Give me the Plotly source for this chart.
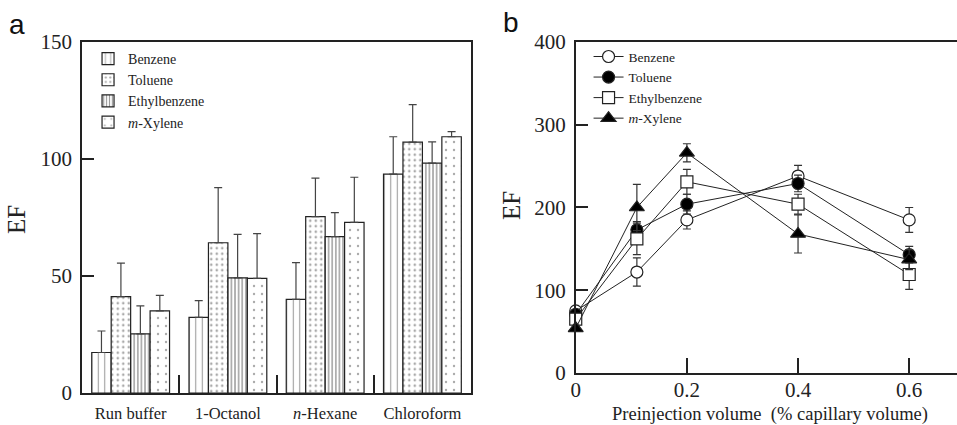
import plotly.graph_objects as go

# ---------------- Data: panel a ----------------
solvents = ["Run buffer", "1-Octanol", "<i>n</i>-Hexane", "Chloroform"]
a_benzene = [17.3, 32.3, 40.0, 93.5]
a_toluene = [41.2, 64.2, 75.4, 107.2]
a_ethylbenzene = [25.3, 49.2, 66.8, 98.2]
a_mxylene = [35.1, 49.0, 72.9, 109.5]
a_benzene_err = [9.2, 7.2, 15.7, 16.0]
a_toluene_err = [14.3, 23.6, 16.4, 16.0]
a_ethylbenzene_err = [11.9, 18.6, 10.3, 9.1]
a_mxylene_err = [6.6, 19.1, 19.3, 2.2]

# ---------------- Data: panel b ----------------
preinj = [0, 0.11, 0.2, 0.4, 0.6]
b_benzene = [75, 122, 185, 238, 185]
b_toluene = [71, 173, 204, 229, 143]
b_ethylbenzene = [65, 162, 231, 204, 119]
b_mxylene = [54, 200, 266, 168, 137]
b_benzene_err = [3, 17, 11, 13, 15]
b_toluene_err = [3, 10, 12, 10, 10]
b_ethylbenzene_err = [3, 19, 15, 12, 18]
b_mxylene_err = [3, 28, 11, 23, 12]

names = ["Benzene", "Toluene", "Ethylbenzene", "<i>m</i>-Xylene"]

SERIF = "Liberation Serif, Times New Roman, serif"
SANS = "Liberation Sans, Arial, sans-serif"
AX = "#222222"

fig = go.Figure()

patterns = [
    dict(shape="|", size=6.5, solidity=0.16, fgcolor="#333333", bgcolor="white"),
    dict(shape=".", size=5.5, solidity=0.18, fgcolor="#555555", bgcolor="white"),
    dict(shape="|", size=3.6, solidity=0.4, fgcolor="#333333", bgcolor="white"),
    dict(shape=".", size=8, solidity=0.07, fgcolor="#555555", bgcolor="white"),
]
a_vals = [a_benzene, a_toluene, a_ethylbenzene, a_mxylene]
a_errs = [a_benzene_err, a_toluene_err, a_ethylbenzene_err, a_mxylene_err]

for nm, vals, errs, pat in zip(names, a_vals, a_errs, patterns):
    fig.add_trace(go.Bar(
        x=solvents, y=vals, name=nm,
        marker=dict(color="white", line=dict(color=AX, width=1.2), pattern=pat),
        error_y=dict(type="data", array=errs, arrayminus=[0] * len(errs), symmetric=False,
                     color="#444444", thickness=1.2, width=4),
        xaxis="x", yaxis="y", legend="legend",
    ))

b_vals = [b_benzene, b_toluene, b_ethylbenzene, b_mxylene]
b_errs = [b_benzene_err, b_toluene_err, b_ethylbenzene_err, b_mxylene_err]
symbols = ["circle", "circle", "square", "triangle-up"]
fills = ["white", "black", "white", "black"]
sizes = [12, 12, 12, 13]
for nm, vals, errs, sym, fc, sz in zip(names, b_vals, b_errs, symbols, fills, sizes):
    fig.add_trace(go.Scatter(
        x=preinj, y=vals, name=nm, mode="lines+markers",
        line=dict(color=AX, width=1),
        marker=dict(symbol=sym, size=sz, color=fc, line=dict(color=AX, width=1.2)),
        error_y=dict(type="data", array=errs, color="#333333", thickness=1.2, width=4),
        cliponaxis=False,
        xaxis="x2", yaxis="y2", legend="legend2",
    ))

axis_common = dict(showline=True, linecolor=AX, linewidth=1.5, showgrid=False, zeroline=False,
                   ticks="inside", tickcolor=AX, tickwidth=1.5, automargin=False)

fig.update_layout(
    width=957, height=425,
    margin=dict(l=0, r=0, t=0, b=0),
    paper_bgcolor="white", plot_bgcolor="white",
    barmode="group", bargap=0.2, bargroupgap=0,
    font=dict(family=SERIF, color="#222222"),
    xaxis=dict(domain=[0.0857, 0.4922], anchor="y", type="category", range=[-0.5, 3.5],
               tickson="boundaries", ticklen=18, mirror=True, ticklabelstandoff=4,
               tickfont=dict(family=SERIF, size=16.5), **axis_common),
    yaxis=dict(domain=[0.0753, 0.9012], anchor="x", range=[0, 150], tickvals=[0, 50, 100, 150],
               ticklen=12, mirror=True, tickfont=dict(family=SERIF, size=21),
               ticklabelstandoff=4, **axis_common),
    xaxis2=dict(domain=[0.6016, 1.0], anchor="y2", range=[0, 0.686], tickvals=[0, 0.2, 0.4, 0.6],
                ticktext=["0", "0.2", "0.4", "0.6"], ticklen=15, mirror=True, ticklabelstandoff=-3,
                tickfont=dict(family=SERIF, size=21), **axis_common),
    yaxis2=dict(domain=[0.1224, 0.9012], anchor="x2", range=[0, 400],
                tickvals=[0, 100, 200, 300, 400], ticklen=13, mirror=False,
                tickfont=dict(family=SERIF, size=21), ticklabelstandoff=4, **axis_common),
    legend=dict(x=0.092, y=0.899, xanchor="left", yanchor="top", bgcolor="rgba(0,0,0,0)",
                font=dict(family=SERIF, size=14, color="#222222"), tracegroupgap=0,
                itemwidth=30),
    legend2=dict(x=0.615, y=0.903, xanchor="left", yanchor="top", bgcolor="rgba(0,0,0,0)",
                 font=dict(family=SERIF, size=13.5, color="#222222"), tracegroupgap=0,
                 itemwidth=30),
    showlegend=True,
    annotations=[
        dict(text="a", x=17 / 957, y=1 - 24 / 425, xref="paper", yref="paper", showarrow=False,
             font=dict(family=SANS, size=28, color="#111111"), xanchor="center", yanchor="middle"),
        dict(text="b", x=511 / 957, y=1 - 23 / 425, xref="paper", yref="paper", showarrow=False,
             font=dict(family=SANS, size=28, color="#111111"), xanchor="center", yanchor="middle"),
        dict(text="EF", x=16 / 957, y=1 - 220 / 425, xref="paper", yref="paper", showarrow=False,
             textangle=-90, font=dict(family=SERIF, size=25), xanchor="center", yanchor="middle"),
        dict(text="EF", x=512 / 957, y=1 - 206 / 425, xref="paper", yref="paper", showarrow=False,
             textangle=-90, font=dict(family=SERIF, size=25), xanchor="center", yanchor="middle"),
        dict(text="Preinjection volume&nbsp; (% capillary volume)", x=770 / 957, y=1 - 414 / 425,
             xref="paper", yref="paper", showarrow=False,
             font=dict(family=SERIF, size=18.5), xanchor="center", yanchor="middle"),
    ],
)

fig.write_html(
    "out.html",
    config={"displayModeBar": False},
    post_script="document.body.style.margin='0';document.body.style.overflow='hidden';",
)
